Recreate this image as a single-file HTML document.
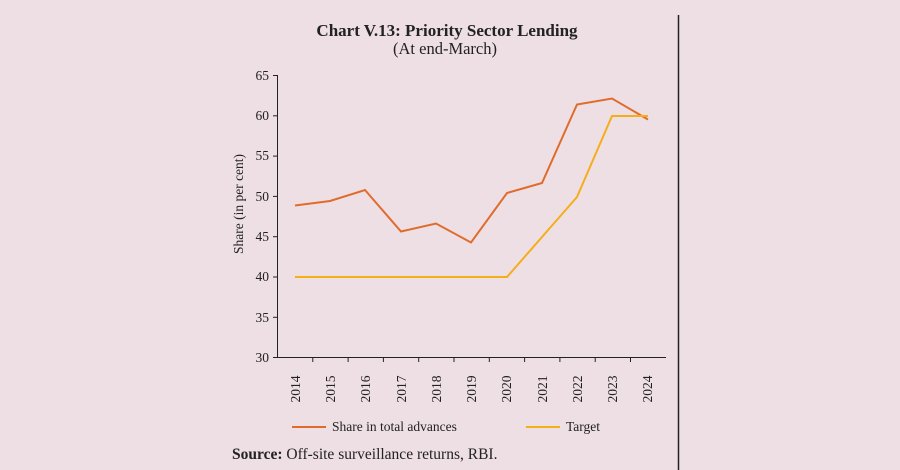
<!DOCTYPE html>
<html><head><meta charset="utf-8"><style>
html,body{margin:0;padding:0;background:#eedfe5;}
</style></head><body>
<svg width="900" height="470" viewBox="0 0 900 470" xmlns="http://www.w3.org/2000/svg" style="display:block;font-family:'Liberation Serif',serif">
<rect width="900" height="470" fill="#eedfe5"/>
<line x1="678.5" y1="15" x2="678.5" y2="470" stroke="#222" stroke-width="1.5"/>
<text x="447" y="36" text-anchor="middle" font-size="17" font-weight="bold" fill="#222">Chart V.13: Priority Sector Lending</text>
<text x="445" y="54" text-anchor="middle" font-size="16.5" fill="#222">(At end-March)</text>
<g stroke="#222" stroke-width="1">
<line x1="277.5" y1="75" x2="277.5" y2="357.5"/>
<line x1="277.5" y1="357.5" x2="666" y2="357.5"/>
<line x1="273" y1="75.5" x2="277.5" y2="75.5"/>
<line x1="273" y1="115.8" x2="277.5" y2="115.8"/>
<line x1="273" y1="156.1" x2="277.5" y2="156.1"/>
<line x1="273" y1="196.4" x2="277.5" y2="196.4"/>
<line x1="273" y1="236.7" x2="277.5" y2="236.7"/>
<line x1="273" y1="277" x2="277.5" y2="277"/>
<line x1="273" y1="317.3" x2="277.5" y2="317.3"/>
<line x1="273" y1="357.5" x2="277.5" y2="357.5"/>
<line x1="312.8" y1="357.5" x2="312.8" y2="362"/>
<line x1="348.1" y1="357.5" x2="348.1" y2="362"/>
<line x1="383.4" y1="357.5" x2="383.4" y2="362"/>
<line x1="418.7" y1="357.5" x2="418.7" y2="362"/>
<line x1="454" y1="357.5" x2="454" y2="362"/>
<line x1="489.3" y1="357.5" x2="489.3" y2="362"/>
<line x1="524.6" y1="357.5" x2="524.6" y2="362"/>
<line x1="559.9" y1="357.5" x2="559.9" y2="362"/>
<line x1="595.2" y1="357.5" x2="595.2" y2="362"/>
<line x1="630.5" y1="357.5" x2="630.5" y2="362"/>
</g>
<g font-size="13.5" fill="#222" text-anchor="end">
<text x="269" y="80">65</text><text x="269" y="120">60</text><text x="269" y="160">55</text>
<text x="269" y="201">50</text><text x="269" y="241">45</text><text x="269" y="281">40</text>
<text x="269" y="322">35</text><text x="269" y="362">30</text>
</g>
<text transform="translate(243,204) rotate(-90)" text-anchor="middle" font-size="13.5" fill="#222">Share (in per cent)</text>
<g font-size="13.5" fill="#222" text-anchor="middle">
<text transform="translate(300,389) rotate(-90)">2014</text>
<text transform="translate(335,389) rotate(-90)">2015</text>
<text transform="translate(370,389) rotate(-90)">2016</text>
<text transform="translate(406,389) rotate(-90)">2017</text>
<text transform="translate(441,389) rotate(-90)">2018</text>
<text transform="translate(476,389) rotate(-90)">2019</text>
<text transform="translate(511,389) rotate(-90)">2020</text>
<text transform="translate(547,389) rotate(-90)">2021</text>
<text transform="translate(582,389) rotate(-90)">2022</text>
<text transform="translate(617,389) rotate(-90)">2023</text>
<text transform="translate(652,389) rotate(-90)">2024</text>
</g>
<polyline fill="none" stroke="#e06c2c" stroke-width="2" points="295,205.5 330,201 365,190 401,231.5 436,223.5 471,242.5 507,193 542,183 577,104.5 612,98.5 648,119.5"/>
<polyline fill="none" stroke="#f5ad1a" stroke-width="2" points="295,277 330,277 365,277 401,277 436,277 471,277 507,277 542,237 577,197 612,116 648,116"/>
<line x1="292" y1="427" x2="326" y2="427" stroke="#e06c2c" stroke-width="2"/>
<text x="332" y="431" font-size="13.5" fill="#222">Share in total advances</text>
<line x1="526" y1="427" x2="560" y2="427" stroke="#f5ad1a" stroke-width="2"/>
<text x="566" y="431" font-size="13.5" fill="#222">Target</text>
<text x="232" y="459" font-size="15.5" fill="#222"><tspan font-weight="bold">Source:</tspan> Off-site surveillance returns, RBI.</text>
</svg>
</body></html>
